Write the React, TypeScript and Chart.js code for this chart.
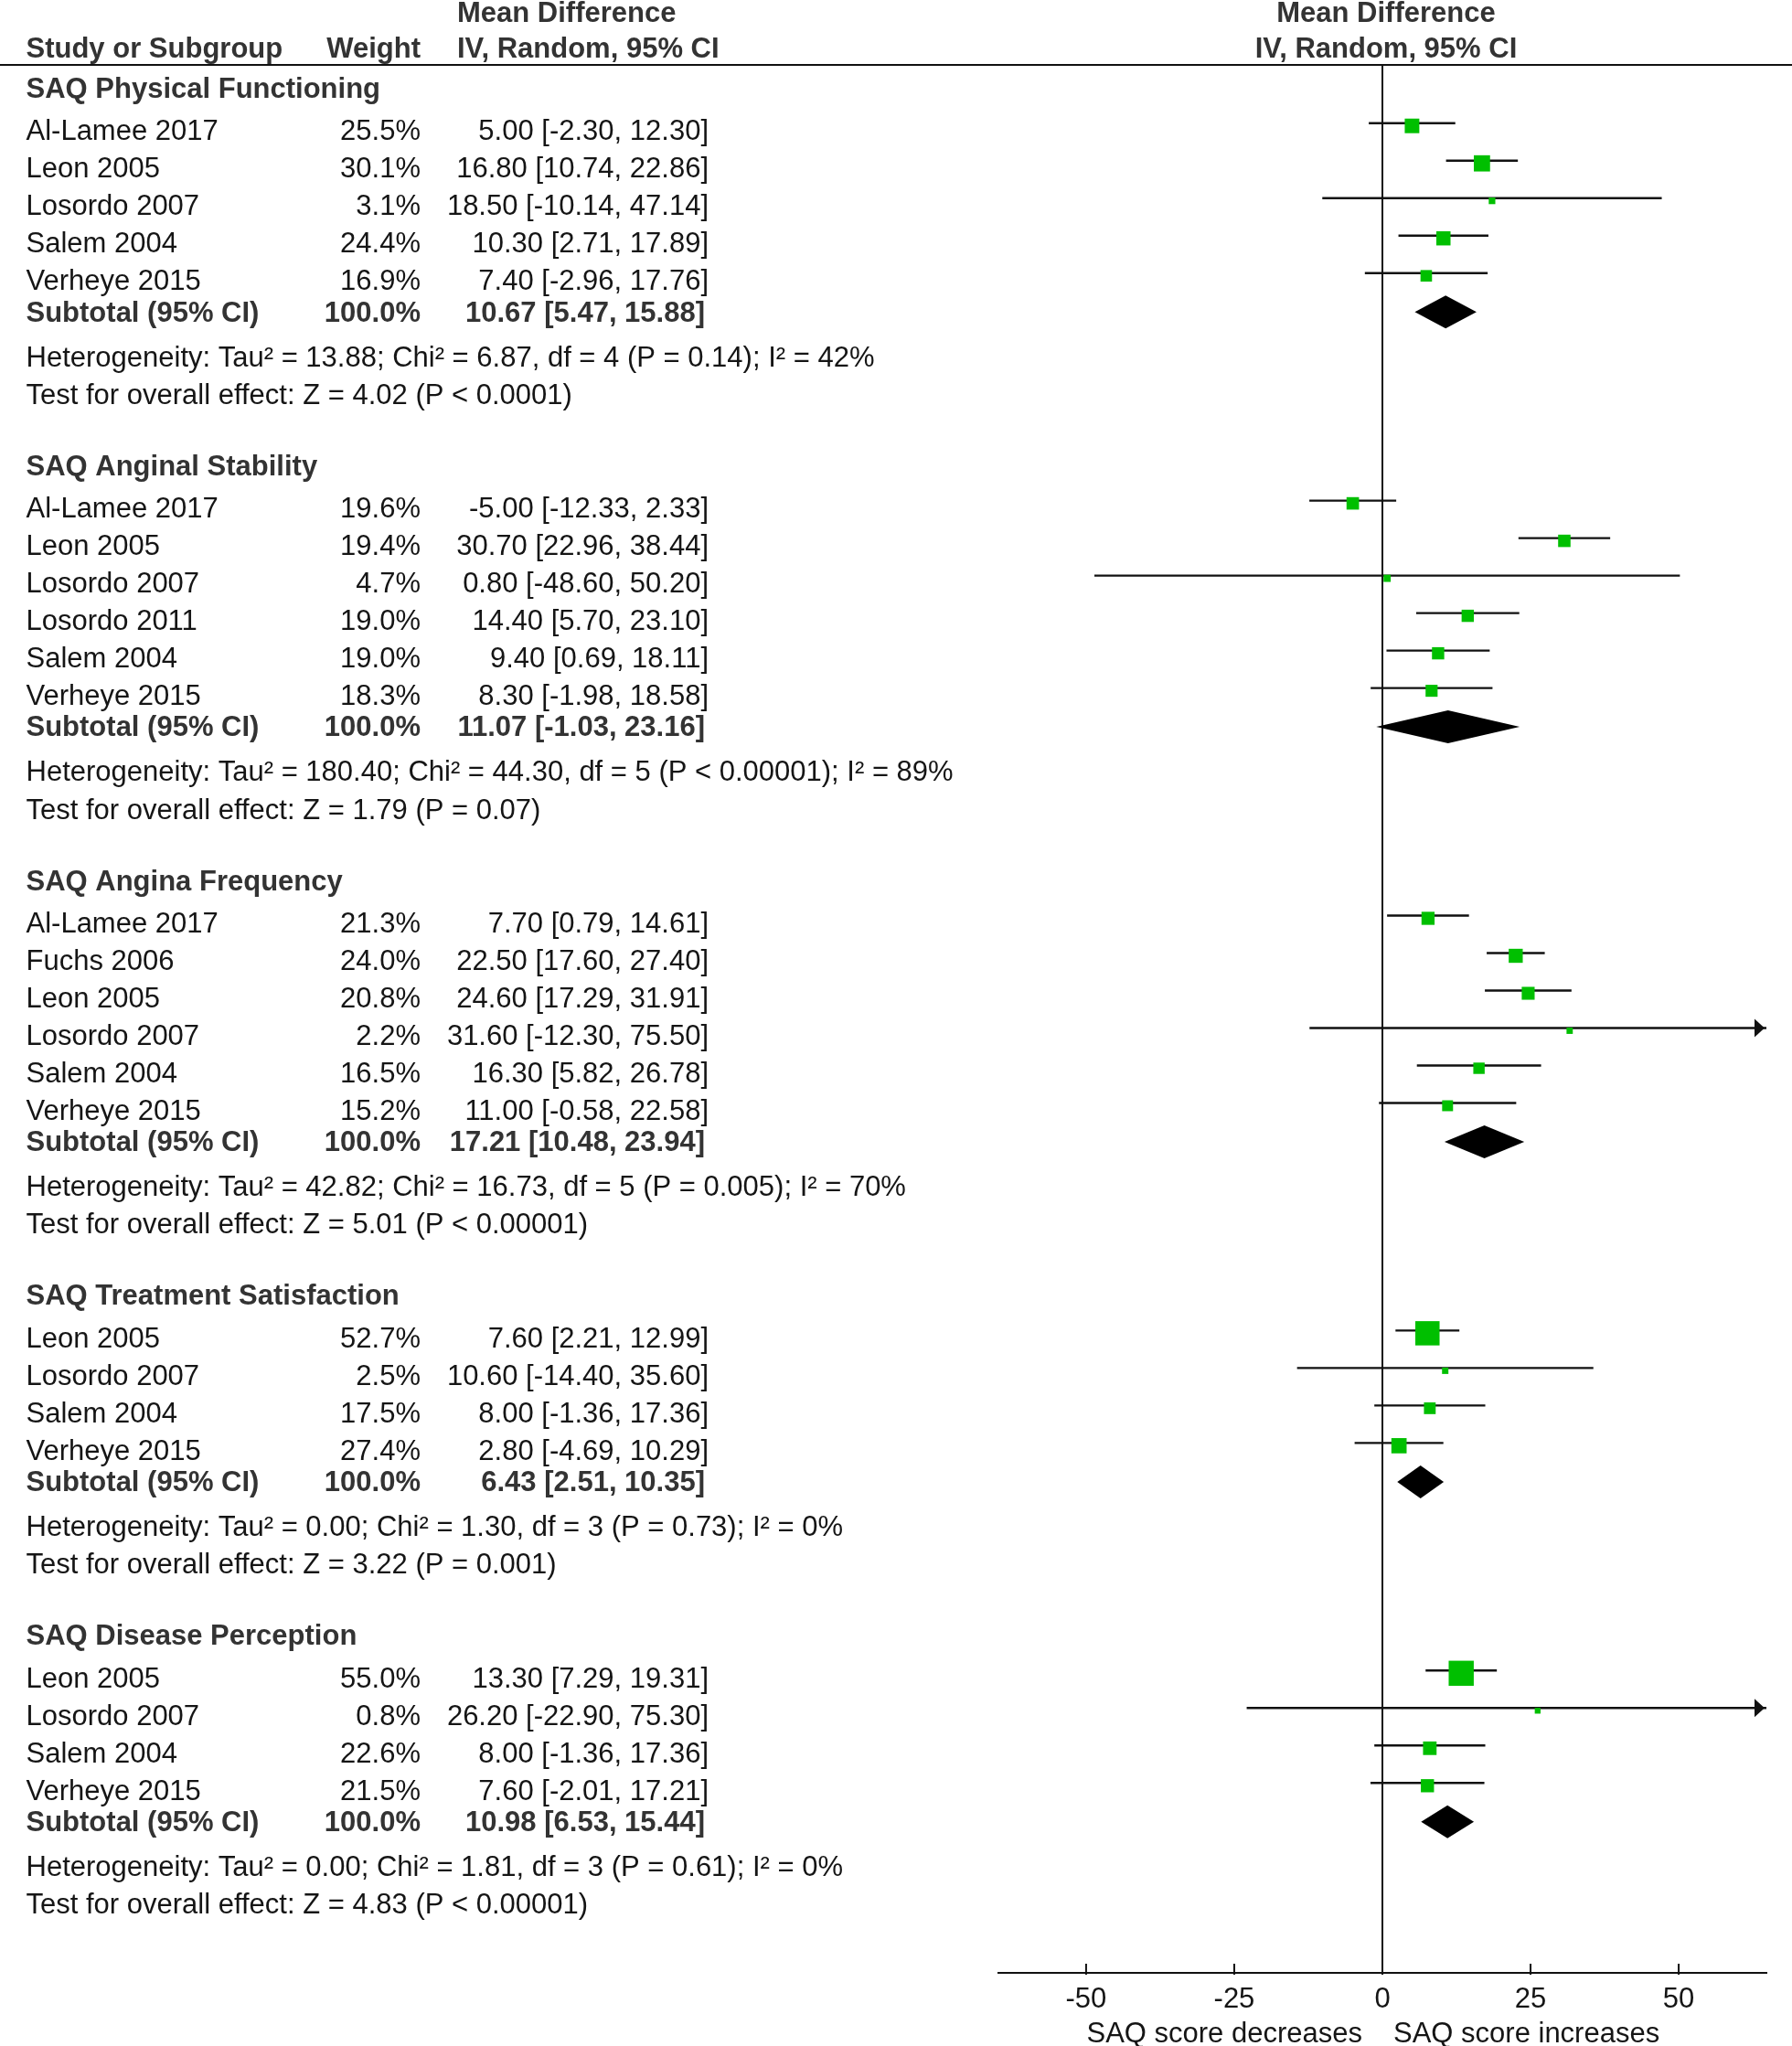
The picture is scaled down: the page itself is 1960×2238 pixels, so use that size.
import React, { useEffect, useRef } from "react";
import { Chart, registerables } from "chart.js";

Chart.register(...registerables);

// ---------------- data ----------------
const GROUP_TITLES = [
  "SAQ Physical Functioning",
  "SAQ Anginal Stability",
  "SAQ Angina Frequency",
  "SAQ Treatment Satisfaction",
  "SAQ Disease Perception",
];

const STUDY_GROUP = [0, 0, 0, 0, 0, 1, 1, 1, 1, 1, 1, 2, 2, 2, 2, 2, 2, 3, 3, 3, 3, 4, 4, 4, 4];

const STUDY_NAMES = [
  "Al-Lamee 2017", "Leon 2005", "Losordo 2007", "Salem 2004", "Verheye 2015",
  "Al-Lamee 2017", "Leon 2005", "Losordo 2007", "Losordo 2011", "Salem 2004", "Verheye 2015",
  "Al-Lamee 2017", "Fuchs 2006", "Leon 2005", "Losordo 2007", "Salem 2004", "Verheye 2015",
  "Leon 2005", "Losordo 2007", "Salem 2004", "Verheye 2015",
  "Leon 2005", "Losordo 2007", "Salem 2004", "Verheye 2015",
];

const STUDY_WEIGHTS = [
  25.5, 30.1, 3.1, 24.4, 16.9,
  19.6, 19.4, 4.7, 19.0, 19.0, 18.3,
  21.3, 24.0, 20.8, 2.2, 16.5, 15.2,
  52.7, 2.5, 17.5, 27.4,
  55.0, 0.8, 22.6, 21.5,
];

const STUDY_MEAN_DIFF = [
  5.0, 16.8, 18.5, 10.3, 7.4,
  -5.0, 30.7, 0.8, 14.4, 9.4, 8.3,
  7.7, 22.5, 24.6, 31.6, 16.3, 11.0,
  7.6, 10.6, 8.0, 2.8,
  13.3, 26.2, 8.0, 7.6,
];

const STUDY_CI_LOW = [
  -2.3, 10.74, -10.14, 2.71, -2.96,
  -12.33, 22.96, -48.6, 5.7, 0.69, -1.98,
  0.79, 17.6, 17.29, -12.3, 5.82, -0.58,
  2.21, -14.4, -1.36, -4.69,
  7.29, -22.9, -1.36, -2.01,
];

const STUDY_CI_HIGH = [
  12.3, 22.86, 47.14, 17.89, 17.76,
  2.33, 38.44, 50.2, 23.1, 18.11, 18.58,
  14.61, 27.4, 31.91, 75.5, 26.78, 22.58,
  12.99, 35.6, 17.36, 10.29,
  19.31, 75.3, 17.36, 17.21,
];

const SUBTOTAL_MEAN_DIFF = [10.67, 11.07, 17.21, 6.43, 10.98];
const SUBTOTAL_CI_LOW = [5.47, -1.03, 10.48, 2.51, 6.53];
const SUBTOTAL_CI_HIGH = [15.88, 23.16, 23.94, 10.35, 15.44];
const SUBTOTAL_WEIGHT = [100.0, 100.0, 100.0, 100.0, 100.0];

const HETEROGENEITY = [
  "Heterogeneity: Tau² = 13.88; Chi² = 6.87, df = 4 (P = 0.14); I² = 42%",
  "Heterogeneity: Tau² = 180.40; Chi² = 44.30, df = 5 (P < 0.00001); I² = 89%",
  "Heterogeneity: Tau² = 42.82; Chi² = 16.73, df = 5 (P = 0.005); I² = 70%",
  "Heterogeneity: Tau² = 0.00; Chi² = 1.30, df = 3 (P = 0.73); I² = 0%",
  "Heterogeneity: Tau² = 0.00; Chi² = 1.81, df = 3 (P = 0.61); I² = 0%",
];

const OVERALL_EFFECT = [
  "Test for overall effect: Z = 4.02 (P < 0.0001)",
  "Test for overall effect: Z = 1.79 (P = 0.07)",
  "Test for overall effect: Z = 5.01 (P < 0.00001)",
  "Test for overall effect: Z = 3.22 (P = 0.001)",
  "Test for overall effect: Z = 4.83 (P < 0.00001)",
];

const X_TICKS = [-50, -25, 0, 25, 50];
const X_MIN = -64.8;
const X_MAX = 64.8;
const AXIS_LEFT_LABEL = "SAQ score decreases";
const AXIS_RIGHT_LABEL = "SAQ score increases";

// ---------------- layout / style ----------------
const W = 1960;
const H = 2238;
const AREA_TOP = 71;
const AREA_BOTTOM = 2158;
const AREA_LEFT = 1092;
const AREA_RIGHT = 1932;
const ROW_PX = 41;
const Y_MAX = (AREA_BOTTOM - AREA_TOP) / ROW_PX;

const FIRST_TITLE = (106.7 - AREA_TOP) / ROW_PX;
const TITLE_TO_STUDY = 46.5 / ROW_PX;
const STUDY_STEP = 1;
const STUDY_TO_SUB = 34.3 / ROW_PX;
const SUB_TO_HET = 49 / ROW_PX;
const HET_TO_TEST = 41.1 / ROW_PX;
const TEST_TO_TITLE = 78 / ROW_PX;

const LINE_RISE = 18.5 / ROW_PX;
const SQUARE_DROP = 3 / ROW_PX;
const DIAMOND_RISE = 10.3 / ROW_PX;
const DIAMOND_HALF = 18 / ROW_PX;

const HEADER_TOP_BASE = (24 - AREA_TOP) / ROW_PX;
const HEADER_BASE = (63.3 - AREA_TOP) / ROW_PX;
const AXIS_LABEL_BASE = (2234 - AREA_TOP) / ROW_PX;

const COL_STUDY = 28.5;
const COL_WEIGHT_R = 460;
const COL_CI_R = 775;
const COL_CI_R_BOLD = 771;
const COL_MD_HEADER = 500;

const FONT_FAMILY = '"Liberation Sans", Arial, Helvetica, sans-serif';
const FONT_SIZE = 31;
const TEXT_COLOR = "#151515";
const BOLD_COLOR = "#333333";
const LINE_COLOR = "#111111";
const SQUARE_COLOR = "#00bf00";

const fmt = (v: number) => v.toFixed(2);
const ciText = (md: number, lo: number, hi: number) => `${fmt(md)} [${fmt(lo)}, ${fmt(hi)}]`;

function computeLayout() {
  const titleY: number[] = [];
  const studyY: number[] = new Array(STUDY_NAMES.length).fill(0);
  const subY: number[] = [];
  const hetY: number[] = [];
  const testY: number[] = [];
  let y = FIRST_TITLE;
  GROUP_TITLES.forEach((_, g) => {
    titleY.push(y);
    y += TITLE_TO_STUDY;
    let first = true;
    STUDY_GROUP.forEach((sg, i) => {
      if (sg !== g) return;
      if (!first) y += STUDY_STEP;
      first = false;
      studyY[i] = y;
    });
    y += STUDY_TO_SUB;
    subY.push(y);
    y += SUB_TO_HET;
    hetY.push(y);
    y += HET_TO_TEST;
    testY.push(y);
    y += TEST_TO_TITLE;
  });
  return { titleY, studyY, subY, hetY, testY };
}

export default function App() {
  const canvasRef = useRef<HTMLCanvasElement | null>(null);

  useEffect(() => {
    if (!canvasRef.current) return;
    const L = computeLayout();

    const squareData = STUDY_MEAN_DIFF.map((md, i) => ({
      x: md,
      y: L.studyY[i] - LINE_RISE + SQUARE_DROP,
    }));
    const squareRadius = STUDY_WEIGHTS.map((w) => (6 + 0.39 * w) / Math.SQRT2);

    const lineData: any[] = [];
    STUDY_MEAN_DIFF.forEach((_, i) => {
      const yl = L.studyY[i] - LINE_RISE;
      lineData.push({ x: Math.max(STUDY_CI_LOW[i], X_MIN), y: yl });
      lineData.push({ x: Math.min(STUDY_CI_HIGH[i], X_MAX), y: yl });
      lineData.push({ x: null, y: null });
    });

    const font = (bold: boolean) => `${bold ? "bold " : ""}${FONT_SIZE}px ${FONT_FAMILY}`;

    const forestPlugin = {
      id: "forest",
      afterDatasetsDraw(chart: any) {
        const { ctx } = chart;
        const xs = chart.scales.x;
        const ys = chart.scales.y;
        ctx.save();
        // diamonds
        ctx.fillStyle = "#000000";
        SUBTOTAL_MEAN_DIFF.forEach((md, g) => {
          const yc = ys.getPixelForValue(L.subY[g] - DIAMOND_RISE);
          const h = ys.getPixelForValue(L.subY[g] - DIAMOND_RISE + DIAMOND_HALF) - yc;
          const xl = xs.getPixelForValue(SUBTOTAL_CI_LOW[g]);
          const xm = xs.getPixelForValue(md);
          const xr = xs.getPixelForValue(SUBTOTAL_CI_HIGH[g]);
          ctx.beginPath();
          ctx.moveTo(xl, yc);
          ctx.lineTo(xm, yc - h);
          ctx.lineTo(xr, yc);
          ctx.lineTo(xm, yc + h);
          ctx.closePath();
          ctx.fill();
        });
        // arrows for clipped intervals
        ctx.fillStyle = LINE_COLOR;
        STUDY_CI_HIGH.forEach((hi, i) => {
          if (hi <= X_MAX) return;
          const yl = ys.getPixelForValue(L.studyY[i] - LINE_RISE);
          const tip = xs.getPixelForValue(X_MAX) - 2;
          ctx.beginPath();
          ctx.moveTo(tip, yl);
          ctx.lineTo(tip - 11, yl - 10);
          ctx.lineTo(tip - 11, yl + 10);
          ctx.closePath();
          ctx.fill();
        });
        ctx.restore();
      },
      afterDraw(chart: any) {
        const { ctx } = chart;
        const xs = chart.scales.x;
        const ys = chart.scales.y;
        const py = (u: number) => ys.getPixelForValue(u);
        ctx.save();
        // header rule
        ctx.strokeStyle = LINE_COLOR;
        ctx.lineWidth = 2;
        ctx.beginPath();
        ctx.moveTo(0, chart.chartArea.top);
        ctx.lineTo(W, chart.chartArea.top);
        ctx.stroke();
        // tick marks
        const axisY = chart.chartArea.bottom;
        xs.ticks.forEach((t: any) => {
          const px = xs.getPixelForValue(t.value);
          ctx.beginPath();
          ctx.moveTo(px, axisY - 10);
          ctx.lineTo(px, axisY + 2);
          ctx.stroke();
        });

        const text = (s: string, x: number, u: number, align: CanvasTextAlign, bold: boolean) => {
          ctx.font = font(bold);
          ctx.fillStyle = bold ? BOLD_COLOR : TEXT_COLOR;
          ctx.textAlign = align;
          ctx.textBaseline = "alphabetic";
          ctx.fillText(s, x, py(u));
        };

        // column headers
        text("Study or Subgroup", COL_STUDY, HEADER_BASE, "left", true);
        text("Weight", COL_WEIGHT_R, HEADER_BASE, "right", true);
        text("Mean Difference", COL_MD_HEADER, HEADER_TOP_BASE, "left", true);
        text("IV, Random, 95% CI", COL_MD_HEADER, HEADER_BASE, "left", true);
        const zx = xs.getPixelForValue(0) + 4;
        text("Mean Difference", zx, HEADER_TOP_BASE, "center", true);
        text("IV, Random, 95% CI", zx, HEADER_BASE, "center", true);

        // groups
        GROUP_TITLES.forEach((title, g) => {
          text(title, COL_STUDY, L.titleY[g], "left", true);
          text("Subtotal (95% CI)", COL_STUDY, L.subY[g], "left", true);
          text(`${SUBTOTAL_WEIGHT[g].toFixed(1)}%`, COL_WEIGHT_R, L.subY[g], "right", true);
          text(
            ciText(SUBTOTAL_MEAN_DIFF[g], SUBTOTAL_CI_LOW[g], SUBTOTAL_CI_HIGH[g]),
            COL_CI_R_BOLD,
            L.subY[g],
            "right",
            true
          );
          text(HETEROGENEITY[g], COL_STUDY, L.hetY[g], "left", false);
          text(OVERALL_EFFECT[g], COL_STUDY, L.testY[g], "left", false);
        });
        STUDY_NAMES.forEach((name, i) => {
          text(name, COL_STUDY, L.studyY[i], "left", false);
          text(`${STUDY_WEIGHTS[i].toFixed(1)}%`, COL_WEIGHT_R, L.studyY[i], "right", false);
          text(
            ciText(STUDY_MEAN_DIFF[i], STUDY_CI_LOW[i], STUDY_CI_HIGH[i]),
            COL_CI_R,
            L.studyY[i],
            "right",
            false
          );
        });

        // axis direction labels
        text(AXIS_LEFT_LABEL, xs.getPixelForValue(0) - 22, AXIS_LABEL_BASE, "right", false);
        text(AXIS_RIGHT_LABEL, xs.getPixelForValue(0) + 12, AXIS_LABEL_BASE, "left", false);
        ctx.restore();
      },
    };

    const chart = new Chart(canvasRef.current, {
      type: "scatter",
      data: {
        datasets: [
          {
            label: "Study estimates",
            data: squareData,
            pointStyle: "rect",
            pointRadius: squareRadius,
            pointHoverRadius: squareRadius,
            backgroundColor: SQUARE_COLOR,
            borderColor: SQUARE_COLOR,
            borderWidth: 0,
            showLine: false,
            order: 0,
          },
          {
            label: "95% CI",
            data: lineData,
            showLine: true,
            spanGaps: false,
            borderColor: LINE_COLOR,
            borderWidth: 2.4,
            pointRadius: 0,
            pointHoverRadius: 0,
            fill: false,
            tension: 0,
            order: 1,
          } as any,
        ],
      },
      options: {
        responsive: false,
        maintainAspectRatio: false,
        devicePixelRatio: 1,
        animation: false,
        events: [],
        layout: {
          padding: { left: AREA_LEFT, right: W - AREA_RIGHT, top: AREA_TOP, bottom: 0 },
        },
        plugins: {
          legend: { display: false },
          tooltip: { enabled: false },
        },
        scales: {
          x: {
            type: "linear",
            min: X_MIN,
            max: X_MAX,
            afterBuildTicks: (scale: any) => {
              scale.ticks = X_TICKS.map((v) => ({ value: v }));
            },
            afterFit: (scale: any) => {
              scale.height = H - AREA_BOTTOM;
            },
            border: { display: true, color: LINE_COLOR, width: 2 },
            grid: {
              drawTicks: false,
              drawOnChartArea: true,
              lineWidth: 2,
              color: (c: any) => (c.tick && c.tick.value === 0 ? LINE_COLOR : "rgba(0,0,0,0)"),
            },
            ticks: {
              font: { family: FONT_FAMILY, size: FONT_SIZE },
              color: TEXT_COLOR,
              padding: 11,
              maxRotation: 0,
              autoSkip: false,
              callback: (v: any) => String(v),
            },
          },
          y: {
            type: "linear",
            display: false,
            min: 0,
            max: Y_MAX,
            reverse: true,
          },
        },
      },
      plugins: [forestPlugin],
    });

    return () => chart.destroy();
  }, []);

  return (
    <div style={{ position: "absolute", left: 0, top: 0, width: W, height: H, background: "#ffffff" }}>
      <canvas ref={canvasRef} width={W} height={H} style={{ display: "block", width: W, height: H }} />
    </div>
  );
}
